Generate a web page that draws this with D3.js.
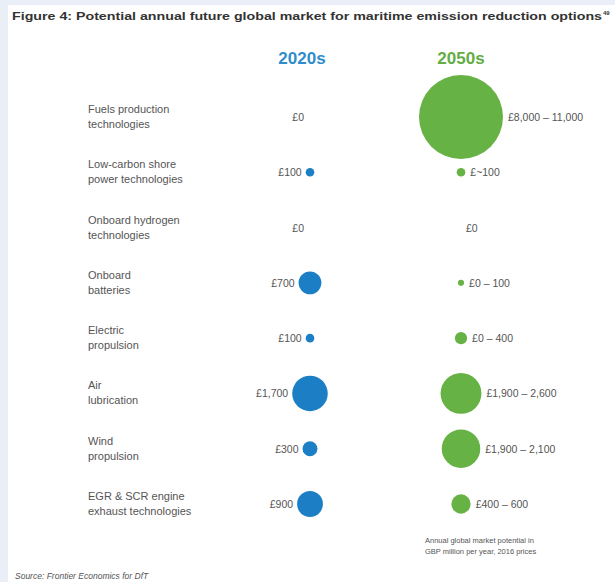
<!DOCTYPE html>
<html><head><meta charset="utf-8">
<script src="https://cdn.jsdelivr.net/npm/d3@7"></script>
<style>body{margin:0;background:#e9eef7;} svg{display:block;}</style>
</head><body>
<svg id="c" width="615" height="582"></svg>
<script>
const categories = [
  ["Fuels production","technologies"],
  ["Low-carbon shore","power technologies"],
  ["Onboard hydrogen","technologies"],
  ["Onboard","batteries"],
  ["Electric","propulsion"],
  ["Air","lubrication"],
  ["Wind","propulsion"],
  ["EGR & SCR engine","exhaust technologies"]
];
const periods = ["2020s","2050s"];
const values2020 = [0, 100, 0, 700, 100, 1700, 300, 900];
const low2050  = [8000, 100, 0, 0, 0, 1900, 1900, 400];
const high2050 = [11000, 100, 0, 100, 400, 2600, 2100, 600];
const labels2050 = ["£8,000 – 11,000","£~100","£0","£0 – 100","£0 – 400","£1,900 – 2,600","£1,900 – 2,100","£400 – 600"];

const svg = d3.select("#c");
svg.append("rect").attr("x",8).attr("y",5).attr("width",607).attr("height",577).attr("fill","#fff");

const y = d3.scalePoint().domain(d3.range(categories.length)).range([117,504]);
const x = d3.scalePoint().domain(periods).range([310,461]);
const r = d3.scaleSqrt().domain([0,9500]).range([0,42]);

const blue = "#1c7ec4", green = "#67b244";
const txt = "#555";
const font = "Liberation Sans, Arial, sans-serif";

// title
svg.append("text").attr("x",12).attr("y",20)
  .attr("font-family",font).attr("font-size",10.6).attr("font-weight","bold").attr("fill","#333")
  .attr("textLength",590).attr("lengthAdjust","spacingAndGlyphs")
  .text("Figure 4: Potential annual future global market for maritime emission reduction options");
svg.append("text").attr("x",603).attr("y",15).attr("font-family",font).attr("font-size",6).attr("font-weight","bold").attr("fill","#333").text("49");

// headers
svg.selectAll("text.hdr").data(periods).join("text").attr("class","hdr")
  .attr("x",d=>x(d)-(d==="2020s"?8:0)).attr("y",64).attr("text-anchor","middle")
  .attr("font-family",font).attr("font-size",17).attr("font-weight","bold")
  .attr("fill",(d,i)=>i===0?"#2f8dcc":"#62ad45").text(d=>d);

// category labels
const cat = svg.selectAll("g.cat").data(categories).join("g").attr("class","cat");
cat.each(function(lines,i){
  const t = d3.select(this).append("text").attr("font-family",font).attr("font-size",11).attr("fill",txt);
  lines.forEach((l,j)=>t.append("tspan").attr("x",88).attr("y",y(i)-4+j*15).text(l));
});

// 2020 bubbles
const mid2050 = low2050.map((l,i)=>(l+high2050[i])/2);
svg.selectAll("circle.a").data(values2020).join("circle").attr("class","a")
  .attr("cx",x("2020s")).attr("cy",(d,i)=>y(i)).attr("r",d=>r(d)).attr("fill",blue);
svg.selectAll("text.va").data(values2020).join("text").attr("class","va")
  .attr("x",d=>x("2020s")-r(d)-(d?4:6)).attr("y",(d,i)=>y(i)+4).attr("text-anchor","end")
  .attr("font-family",font).attr("font-size",10.5).attr("fill",txt)
  .text(d=>"£"+d3.format(",")(d));

// 2050 bubbles
svg.selectAll("circle.b").data(mid2050).join("circle").attr("class","b")
  .attr("cx",x("2050s")).attr("cy",(d,i)=>y(i)).attr("r",d=>r(d)).attr("fill",green);
svg.selectAll("text.vb").data(mid2050).join("text").attr("class","vb")
  .attr("x",d=>x("2050s")+r(d)+5).attr("y",(d,i)=>y(i)+4)
  .attr("font-family",font).attr("font-size",10.5).attr("fill",txt)
  .text((d,i)=>labels2050[i]);

// note
const note = svg.append("text").attr("font-family",font).attr("font-size",7.5).attr("fill","#555");
note.append("tspan").attr("x",425).attr("y",543).text("Annual global market potential in");
note.append("tspan").attr("x",425).attr("y",554).text("GBP million per year, 2016 prices");

svg.append("text").attr("x",15).attr("y",579).attr("font-family",font).attr("font-size",8.5)
  .attr("font-style","italic").attr("fill","#555").text("Source: Frontier Economics for DfT");
</script>
</body></html>
